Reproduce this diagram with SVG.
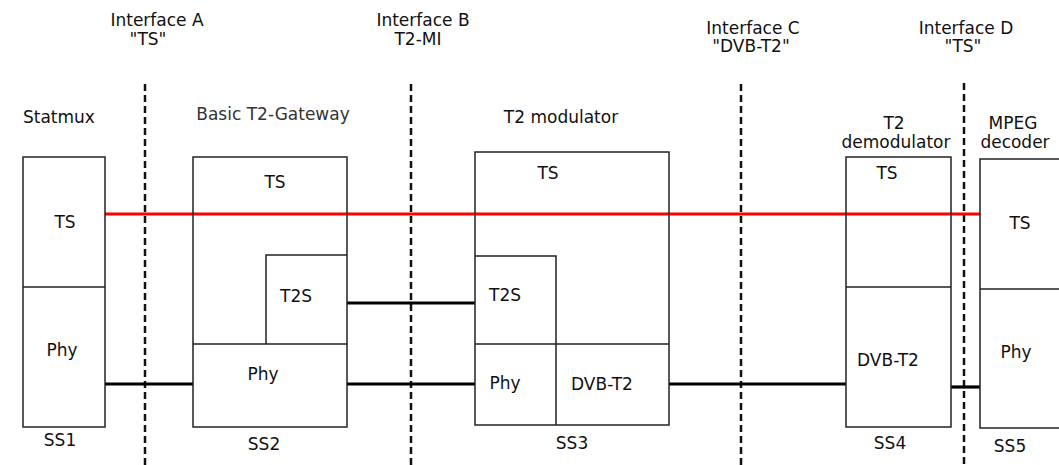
<svg xmlns="http://www.w3.org/2000/svg" width="1059" height="465" viewBox="0 0 1059 465">
<style>
text{font-family:"DejaVu Sans","Verdana",sans-serif;font-size:17px;fill:#111}
.lt{fill:#333}
.c{text-anchor:middle}
.box{fill:none;stroke:#222;stroke-width:1.5}
.dash{stroke:#111;stroke-width:2.5;stroke-dasharray:7 4;fill:none}
.link{stroke:#000;stroke-width:3.2;fill:none}
.red{stroke:#ff0000;stroke-width:3.2;fill:none}
</style>
<rect width="1059" height="465" fill="#fff"/>
<g id="interfaces">
<line class="dash" x1="145" y1="84" x2="145" y2="465"/>
<line class="dash" x1="411" y1="84" x2="411" y2="465"/>
<line class="dash" x1="741" y1="84" x2="741" y2="465"/>
<line class="dash" x1="964" y1="83" x2="964" y2="465"/>
<text class="c" x="157" y="26">Interface A</text>
<text class="c" x="148" y="45">"TS"</text>
<text class="c" x="423" y="26">Interface B</text>
<text class="c" x="418" y="45">T2-MI</text>
<text class="c" x="753" y="34">Interface C</text>
<text class="c" x="751" y="52">"DVB-T2"</text>
<text class="c" x="966" y="34">Interface D</text>
<text class="c" x="963" y="52">"TS"</text>
</g>
<g id="connectors">
<line class="red" x1="105" y1="214" x2="980" y2="214"/>
<line class="link" x1="105" y1="384" x2="193" y2="384"/>
<line class="link" x1="347" y1="303" x2="475" y2="303"/>
<line class="link" x1="347" y1="384" x2="475" y2="384"/>
<line class="link" x1="669" y1="384" x2="846" y2="384"/>
<line class="link" x1="951" y1="387" x2="980" y2="387"/>
</g>
<g id="ss1">
<text x="23" y="123">Statmux</text>
<rect class="box" x="23" y="157" width="82" height="270"/>
<line class="box" x1="23" y1="287" x2="105" y2="287"/>
<text class="c" x="65" y="228">TS</text>
<text class="c" x="62" y="356">Phy</text>
<text class="c" x="60" y="446">SS1</text>
</g>
<g id="ss2">
<text class="c lt" x="273" y="120">Basic T2-Gateway</text>
<rect class="box" x="193" y="157" width="154" height="270"/>
<polyline class="box" points="266,344 266,255 347,255"/>
<line class="box" x1="193" y1="344" x2="347" y2="344"/>
<text class="c" x="275" y="188">TS</text>
<text class="c" x="296" y="302">T2S</text>
<text class="c" x="263" y="380">Phy</text>
<text class="c" x="264" y="450">SS2</text>
</g>
<g id="ss3">
<text class="c" x="561" y="123">T2 modulator</text>
<rect class="box" x="475" y="152" width="194" height="273"/>
<polyline class="box" points="475,256 556,256 556,425"/>
<line class="box" x1="475" y1="344" x2="669" y2="344"/>
<text class="c" x="548" y="179">TS</text>
<text class="c" x="505" y="301">T2S</text>
<text class="c" x="505" y="389">Phy</text>
<text class="c" x="602" y="390">DVB-T2</text>
<text class="c" x="572" y="449">SS3</text>
</g>
<g id="ss4">
<text class="c" x="894" y="129">T2</text>
<text class="c" x="896" y="148">demodulator</text>
<rect class="box" x="846" y="157" width="105" height="270"/>
<line class="box" x1="846" y1="287" x2="951" y2="287"/>
<text class="c" x="887" y="179">TS</text>
<text class="c" x="888" y="366">DVB-T2</text>
<text class="c" x="890" y="449">SS4</text>
</g>
<g id="ss5">
<text class="c" x="1013" y="129">MPEG</text>
<text class="c" x="1015" y="148">decoder</text>
<rect class="box" x="980" y="159" width="100" height="269"/>
<line class="box" x1="980" y1="289" x2="1059" y2="289"/>
<text class="c" x="1020" y="229">TS</text>
<text class="c" x="1016" y="358">Phy</text>
<text class="c" x="1010" y="452">SS5</text>
</g>
</svg>
